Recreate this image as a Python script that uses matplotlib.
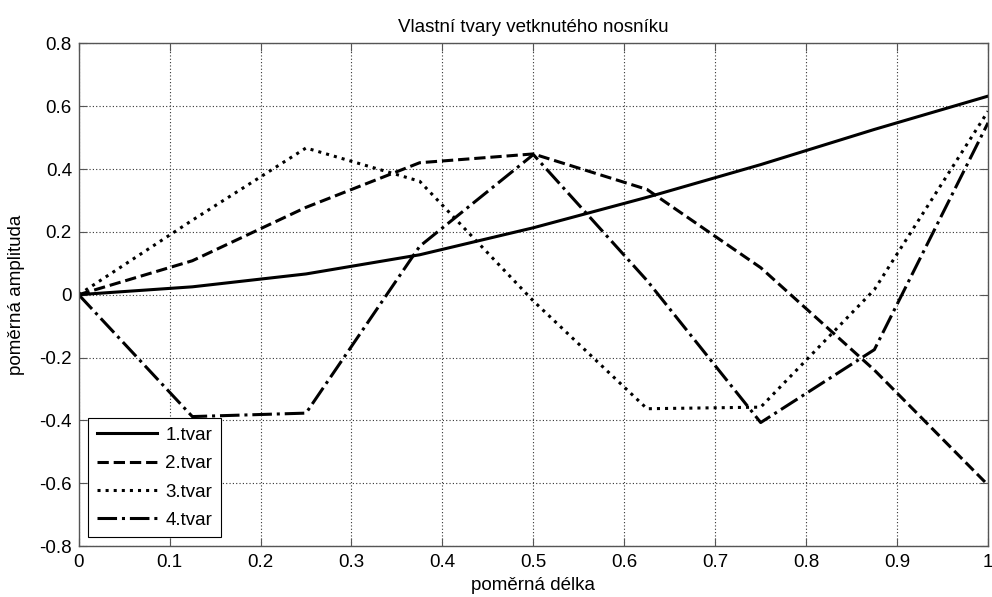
import numpy as np
import matplotlib.pyplot as plt

plt.rcParams['font.family'] = ['Liberation Sans', 'DejaVu Sans']

# relative position along the beam
x = [0, 0.125, 0.25, 0.375, 0.5, 0.625, 0.75, 0.875, 1.0]

# mode shapes
tvar1 = [0, 0.025, 0.066, 0.127, 0.213, 0.31, 0.414, 0.526, 0.632]
tvar2 = [0, 0.108, 0.278, 0.42, 0.448, 0.335, 0.086, -0.24, -0.606]
tvar3 = [0, 0.237, 0.467, 0.361, -0.02, -0.363, -0.358, 0.016, 0.584]
tvar4 = [0, -0.388, -0.377, 0.154, 0.446, 0.045, -0.407, -0.175, 0.547]

labels = ['1.tvar', '2.tvar', '3.tvar', '4.tvar']
styles = ['-', '--', ':', '-.']

fig = plt.figure(figsize=(9.92, 5.97), dpi=100)
ax = fig.add_axes([0.0793, 0.0854, 0.9167, 0.8420])

for y, lab, ls in zip([tvar1, tvar2, tvar3, tvar4], labels, styles):
    ax.plot(x, y, color='black', linestyle=ls, lw=2.2, label=lab)

ax.set_xlim(0, 1)
ax.set_ylim(-0.8, 0.8)
ax.set_xticks(np.arange(0, 1.01, 0.1))
ax.set_yticks(np.arange(-0.8, 0.81, 0.2))
ax.set_xticklabels(['0', '0.1', '0.2', '0.3', '0.4', '0.5', '0.6', '0.7', '0.8', '0.9', '1'])
ax.set_yticklabels(['-0.8', '-0.6', '-0.4', '-0.2', '0', '0.2', '0.4', '0.6', '0.8'])
ax.tick_params(direction='in', top=True, right=True, labelsize=13.5, length=6, color='#555555')
ax.tick_params(axis='x', pad=6)
ax.tick_params(axis='y', pad=4.8)
ax.grid(True, color='#333333', linestyle=(0, (1, 2)), lw=0.8)

for s in ax.spines.values():
    s.set_color('#555555')
    s.set_linewidth(1.0)

ax.set_title('Vlastní tvary vetknutého nosníku', fontsize=13.5, pad=8)
ax.set_xlabel('poměrná délka', fontsize=13.5, labelpad=4)
ax.set_ylabel('poměrná amplituda', fontsize=13.5, labelpad=10)

leg = ax.legend(loc='lower left', fontsize=13.5, fancybox=False, edgecolor='black',
                framealpha=1, handlelength=3.2, handletextpad=0.45, borderpad=0.45,
                labelspacing=0.6, borderaxespad=0, bbox_to_anchor=(0.0106, 0.0173))
leg.get_frame().set_linewidth(0.8)

fig.savefig('out.png', dpi=100)
